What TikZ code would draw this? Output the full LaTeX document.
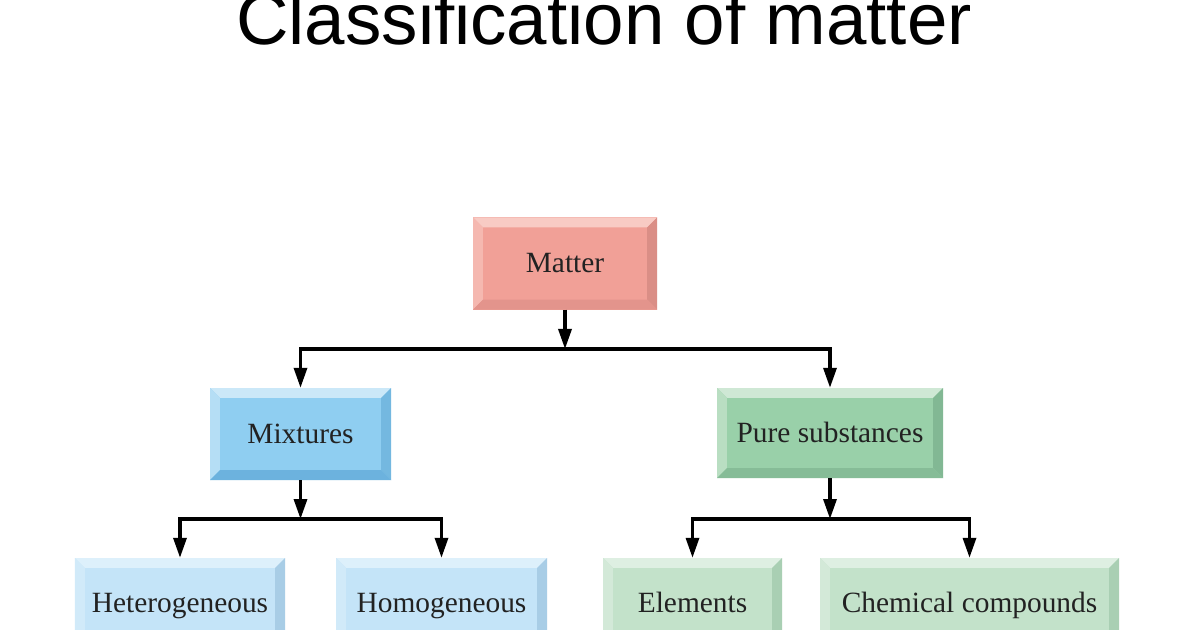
\documentclass[tikz,border=0pt]{standalone}
\usepackage{fontspec}
\setmainfont{Liberation Serif}
\newfontfamily\titlefont{Liberation Sans}
\usepackage{xcolor}
\usetikzlibrary{arrows.meta}

% Box colours: face, top, left, right, bottom
\definecolor{matterF}{HTML}{F1A097}
\definecolor{matterT}{HTML}{F8CBC4}
\definecolor{matterL}{HTML}{F5B8B0}
\definecolor{matterR}{HTML}{DA8E86}
\definecolor{matterB}{HTML}{E3948C}
\definecolor{mixF}{HTML}{8FCEF1}
\definecolor{mixT}{HTML}{CBE8F8}
\definecolor{mixL}{HTML}{B5DEF5}
\definecolor{mixR}{HTML}{74B8E0}
\definecolor{mixB}{HTML}{6CB2DE}
\definecolor{blueF}{HTML}{C4E4F8}
\definecolor{blueT}{HTML}{DDF0FB}
\definecolor{blueL}{HTML}{D1EAF9}
\definecolor{blueR}{HTML}{A8CDE6}
\definecolor{blueB}{HTML}{A8CDE6}
\definecolor{pureF}{HTML}{99D0A9}
\definecolor{pureT}{HTML}{CFE8D5}
\definecolor{pureL}{HTML}{B9DEC2}
\definecolor{pureR}{HTML}{82B894}
\definecolor{pureB}{HTML}{86BC97}
\definecolor{greenF}{HTML}{C3E2CA}
\definecolor{greenT}{HTML}{DEEFE2}
\definecolor{greenL}{HTML}{D3E9D8}
\definecolor{greenR}{HTML}{A9CFB3}
\definecolor{greenB}{HTML}{A9CFB3}
\definecolor{ink}{HTML}{222222}

\newcommand{\bev}{10pt}

\tikzset{
  bevelbox/.style n args={5}{
    fill=#1, draw=none, text=ink, inner sep=0pt,
    font=\fontsize{29.5}{31}\selectfont, text height=19pt, text depth=0pt,
    path picture={
      \fill[#2] (path picture bounding box.north west) -- (path picture bounding box.north east)
        -- ([shift={(-\bev,-\bev)}]path picture bounding box.north east)
        -- ([shift={(\bev,-\bev)}]path picture bounding box.north west) -- cycle;
      \fill[#3] (path picture bounding box.north west) -- (path picture bounding box.south west)
        -- ([shift={(\bev,\bev)}]path picture bounding box.south west)
        -- ([shift={(\bev,-\bev)}]path picture bounding box.north west) -- cycle;
      \fill[#4] (path picture bounding box.north east) -- (path picture bounding box.south east)
        -- ([shift={(-\bev,\bev)}]path picture bounding box.south east)
        -- ([shift={(-\bev,-\bev)}]path picture bounding box.north east) -- cycle;
      \fill[#5] (path picture bounding box.south west) -- (path picture bounding box.south east)
        -- ([shift={(-\bev,\bev)}]path picture bounding box.south east)
        -- ([shift={(\bev,\bev)}]path picture bounding box.south west) -- cycle;
    }},
  matterbox/.style={bevelbox={matterF}{matterT}{matterL}{matterR}{matterB}},
  mixbox/.style={bevelbox={mixF}{mixT}{mixL}{mixR}{mixB}},
  bluebox/.style={bevelbox={blueF}{blueT}{blueL}{blueR}{blueB}},
  purebox/.style={bevelbox={pureF}{pureT}{pureL}{pureR}{pureB}},
  greenbox/.style={bevelbox={greenF}{greenT}{greenL}{greenR}{greenB}},
  arr/.style={line width=3.3bp, -{Triangle[width=13bp,length=20bp]}},
}

\begin{document}
\begin{tikzpicture}[x=1bp, y=-1bp]
\useasboundingbox (0,0) rectangle (1200,630);
\clip (0,0) rectangle (1200,630);
\fill[white] (0,0) rectangle (1200,630);

% Title
\node[font=\titlefont\fontsize{73}{80}\selectfont, anchor=base, inner sep=0pt] (title) at (604,45) {Classification of matter};

% Boxes
\node[matterbox, minimum width=184bp, minimum height=92bp] (matter) at (565,263.5) {Matter};
\node[mixbox, minimum width=181bp, minimum height=92bp] (mix) at (300.5,434) {Mixtures};
\node[purebox, minimum width=226bp, minimum height=90bp] (pure) at (830,433) {Pure substances};
\node[bluebox, minimum width=210bp, minimum height=90bp] (het) at (180,603) {Heterogeneous};
\node[bluebox, minimum width=211bp, minimum height=90bp] (hom) at (441.5,603) {Homogeneous};
\node[greenbox, minimum width=179bp, minimum height=90bp] (ele) at (692.5,603) {Elements};
\node[greenbox, minimum width=299bp, minimum height=90bp] (chem) at (969.5,603) {Chemical compounds};

% Junctions
\coordinate (jtop) at (565,349);
\coordinate (jmix) at (300.5,519);
\coordinate (jpure) at (830,519);

% Arrows
\draw[arr] (matter.south) -- (jtop);
\draw[arr] (jtop) -| (mix.north);
\draw[arr] (jtop) -| (pure.north);
\draw[arr] (mix.south) -- (jmix);
\draw[arr] (jmix) -| (het.north);
\draw[arr] (jmix) -| (hom.north);
\draw[arr] (pure.south) -- (jpure);
\draw[arr] (jpure) -| (ele.north);
\draw[arr] (jpure) -| (chem.north);
\end{tikzpicture}
\end{document}
